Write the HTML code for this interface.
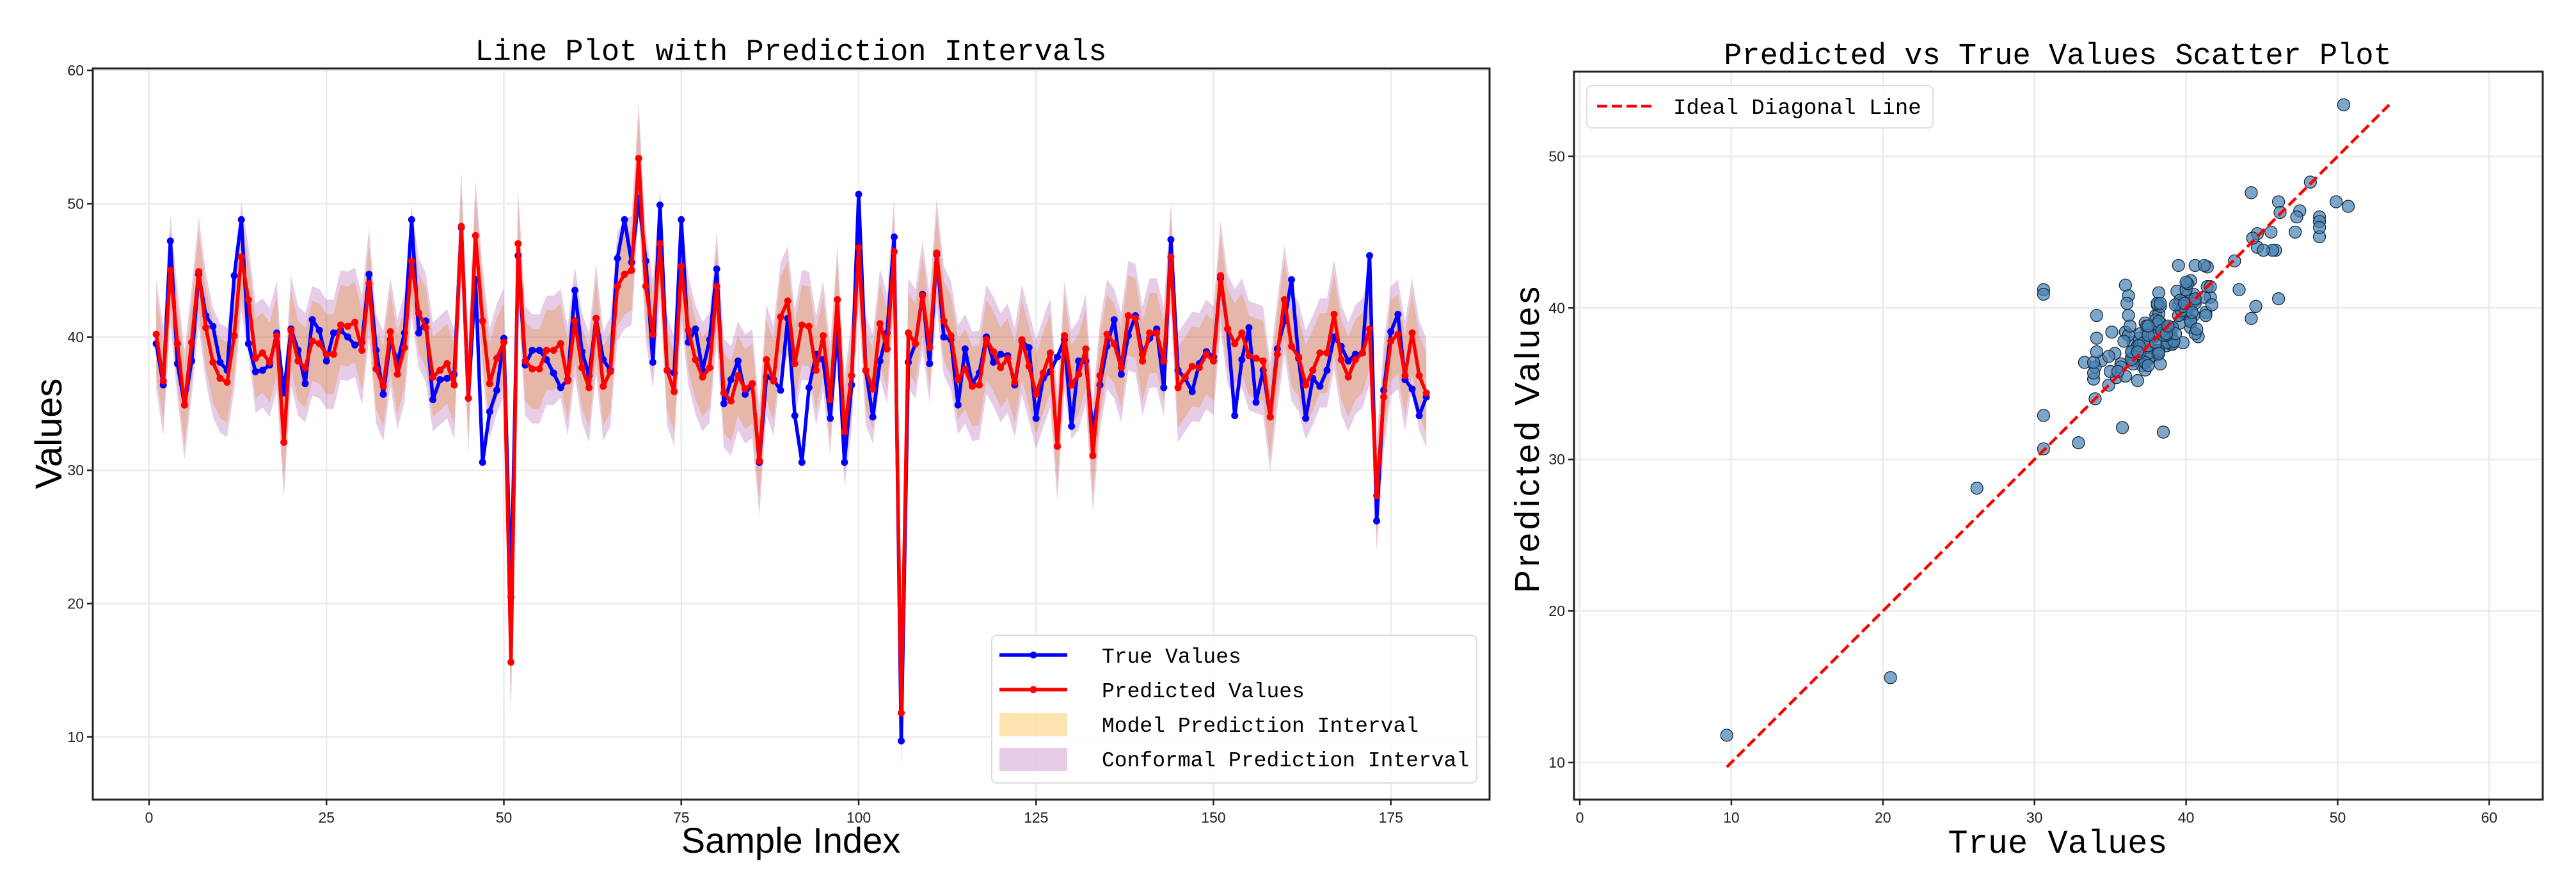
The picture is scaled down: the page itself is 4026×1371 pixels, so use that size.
<!DOCTYPE html>
<html>
<head>
<meta charset="utf-8">
<style>
html,body{margin:0;padding:0;background:#fff;}
svg{display:block;}
.tick{font-family:"Liberation Sans",sans-serif;font-size:23px;fill:#222;}
.mono{font-family:"Liberation Mono","DejaVu Sans Mono",monospace;fill:#000;}
</style>
</head>
<body>
<svg id="chart" width="4026" height="1371" viewBox="0 0 4026 1371" xmlns="http://www.w3.org/2000/svg">
  <rect x="0" y="0" width="4026" height="1371" fill="#fff"/>
  <g id="left"></g>
  <g id="right"></g>
</svg>
<script>
const trueVals = [39.5,36.4,47.2,38.0,34.9,38.2,44.7,41.6,40.8,38.1,
37.5,44.6,48.8,39.5,37.4,37.5,37.9,40.3,35.8,40.6,
39.0,36.5,41.3,40.5,38.2,40.3,40.5,40.0,39.4,39.6,
44.7,39.0,35.7,39.8,38.1,40.3,48.8,40.3,41.2,35.3,
36.8,36.9,37.2,48.2,35.4,44.3,30.6,34.4,36.0,39.9,
20.5,46.1,37.9,39.0,39.0,38.3,37.3,36.2,36.8,43.5,
38.9,37.1,41.4,38.3,37.5,45.9,48.8,45.6,50.4,45.7,
38.1,49.9,37.5,37.3,48.8,39.6,40.6,37.5,39.8,45.1,
35.0,36.8,38.2,35.7,36.5,30.6,37.0,36.8,36.0,41.4,
34.1,30.6,36.2,38.7,38.3,33.9,40.6,30.6,36.4,50.7,
37.5,34.0,38.2,40.3,47.5,9.7,38.1,39.5,43.2,38.0,
46.2,40.0,39.8,34.9,39.1,36.5,37.3,40.0,38.1,38.7,
38.6,36.4,39.7,39.2,33.9,36.9,37.4,38.5,39.8,33.3,
38.2,38.2,32.9,36.4,39.3,41.3,37.2,40.1,41.6,38.7,
39.9,40.6,36.2,47.3,37.5,36.9,35.9,38.0,38.9,38.5,
44.4,40.6,34.1,38.3,40.7,35.1,37.5,34.0,39.1,41.2,
44.3,38.4,33.9,36.9,36.3,37.5,40.0,39.3,38.2,38.7,
38.8,46.1,26.2,36.0,40.4,41.7,36.8,36.1,34.1,35.5];
const predVals = [40.2,36.7,45.0,39.5,34.9,39.6,44.9,40.7,38.1,36.9,
36.6,40.1,46.0,42.8,38.4,38.8,38.1,40.1,32.1,40.5,
38.2,37.7,39.7,39.5,38.7,38.7,40.9,40.8,41.1,39.0,
44.0,37.6,36.3,40.4,37.2,39.2,45.7,41.8,40.7,37.0,
37.5,38.0,36.4,48.3,35.4,47.6,41.2,36.5,38.4,39.6,
15.6,47.0,38.2,37.6,37.6,39.0,39.0,39.5,36.7,41.2,
37.7,36.2,41.4,36.3,37.4,43.8,44.7,45.0,53.4,43.8,
40.2,47.0,37.5,35.9,45.3,40.5,38.3,37.0,37.7,43.8,
35.8,35.2,37.1,36.1,36.5,30.7,38.3,36.7,41.5,42.7,
38.0,40.9,40.8,37.5,40.1,35.3,42.8,32.9,37.1,46.7,
37.5,36.1,41.0,39.1,46.4,11.8,40.3,39.5,43.1,39.2,
46.3,41.2,40.1,36.8,37.6,36.3,36.4,39.8,38.9,37.7,
38.4,36.6,39.8,37.8,35.7,37.3,38.8,31.8,40.1,36.4,
37.2,39.1,31.1,37.1,40.2,39.5,37.7,41.6,41.4,38.2,
40.3,40.3,38.2,46.0,36.2,37.0,37.8,37.7,38.7,38.2,
44.6,40.6,39.5,40.3,38.6,38.4,38.2,34.0,38.7,42.8,
39.3,38.5,36.4,37.5,38.8,38.8,41.7,38.3,37.0,38.3,
38.8,40.6,28.1,35.5,39.7,40.2,37.1,40.3,37.1,35.8];
const modelHalf = 3.0;
const confHalf = 4.1;
const leftXTicks = [0,25,50,75,100,125,150,175];
const leftYTicks = [10,20,30,40,50,60];
const rightXTicks = [0,10,20,30,40,50,60];
const rightYTicks = [10,20,30,40,50];
const diagRange = [9.7, 53.4];

const NS = "http://www.w3.org/2000/svg";
function mk(parent, tag, attrs, text){
  const e = document.createElementNS(NS, tag);
  for (const k in attrs) e.setAttribute(k, attrs[k]);
  if (text !== undefined) e.textContent = text;
  parent.appendChild(e);
  return e;
}
// ---------- LEFT PANEL ----------
const L = document.getElementById('left');
const LX0 = 145, LX1 = 2328, LY0 = 107, LY1 = 1250;
const lx = i => 233 + i * 11.09;
const ly = v => 1152 - (v - 10) * 20.84;

// grid
leftYTicks.forEach(t => {
  const g = mk(L, 'line', {x1: LX0, x2: LX1, y1: ly(t), y2: ly(t), stroke: '#ebebeb', 'stroke-width': 2.5});
  
  
});
leftXTicks.forEach(t => {
  const g = mk(L, 'line', {x1: lx(t), x2: lx(t), y1: LY0, y2: LY1, stroke: '#ebebeb', 'stroke-width': 2.5});
  
  
});
// bands
function bandPath(half){
  let up = [], dn = [];
  predVals.forEach((p, k) => {
    up.push(lx(k + 1).toFixed(1) + ',' + ly(p + half).toFixed(1));
    dn.unshift(lx(k + 1).toFixed(1) + ',' + ly(p - half).toFixed(1));
  });
  return 'M' + up.join(' L') + ' L' + dn.join(' L') + ' Z';
}
const mb = mk(L, 'path', {d: bandPath(modelHalf), fill: 'rgb(255,165,0)', 'fill-opacity': 0.3});


const cb = mk(L, 'path', {d: bandPath(confHalf), fill: 'rgb(128,0,128)', 'fill-opacity': 0.2});


// lines
function series(vals, color, name){
  const pts = vals.map((v, k) => lx(k + 1).toFixed(1) + ',' + ly(v).toFixed(1)).join(' ');
  const pl = mk(L, 'polyline', {points: pts, fill: 'none', stroke: color, 'stroke-width': 5.5, 'stroke-linejoin': 'round'});
  
  
  vals.forEach((v, k) => {
    const c = mk(L, 'circle', {cx: lx(k + 1), cy: ly(v), r: 5.5, fill: color});
    
    
  });
}
series(trueVals, '#0000ff', 'true-values');
series(predVals, '#ff0000', 'predicted-values');
// frame
const lf = mk(L, 'rect', {x: LX0, y: LY0, width: LX1 - LX0, height: LY1 - LY0, fill: 'none', stroke: '#222', 'stroke-width': 3});


// ticks
leftYTicks.forEach(t => {
  mk(L, 'line', {x1: LX0 - 9, x2: LX0, y1: ly(t), y2: ly(t), stroke: '#222', 'stroke-width': 2.5});
  const tx = mk(L, 'text', {x: LX0 - 14, y: ly(t) + 8, 'text-anchor': 'end', class: 'tick'}, t);
  
  
});
leftXTicks.forEach(t => {
  mk(L, 'line', {x1: lx(t), x2: lx(t), y1: LY1, y2: LY1 + 9, stroke: '#222', 'stroke-width': 2.5});
  const tx = mk(L, 'text', {x: lx(t), y: LY1 + 36, 'text-anchor': 'middle', class: 'tick'}, t);
  
  
});
const lt = mk(L, 'text', {x: 1236, y: 94, 'text-anchor': 'middle', class: 'mono', 'font-size': 47}, 'Line Plot with Prediction Intervals');


const lxl = mk(L, 'text', {x: 1236, y: 1333, 'text-anchor': 'middle', 'font-family': '"Liberation Sans",sans-serif', 'font-size': 56, fill: '#000'}, 'Sample Index');


const lyl = mk(L, 'text', {x: 0, y: 0, 'text-anchor': 'middle', 'font-family': '"Liberation Sans",sans-serif', 'font-size': 58, fill: '#000', transform: 'translate(96,678) rotate(-90)'}, 'Values');


// legend
const lg = mk(L, 'g', {});


mk(lg, 'rect', {x: 1550, y: 993, width: 758, height: 231, rx: 8, fill: '#fff', 'fill-opacity': 0.85, stroke: '#ddd', 'stroke-width': 2});
const legY = [1024, 1078, 1132, 1186];
const legLabels = ['True Values', 'Predicted Values', 'Model Prediction Interval', 'Conformal Prediction Interval'];
mk(lg, 'line', {x1: 1562, x2: 1668, y1: legY[0], y2: legY[0], stroke: '#0000ff', 'stroke-width': 5.5});
mk(lg, 'circle', {cx: 1615, cy: legY[0], r: 5.5, fill: '#0000ff'});
mk(lg, 'line', {x1: 1562, x2: 1668, y1: legY[1], y2: legY[1], stroke: '#ff0000', 'stroke-width': 5.5});
mk(lg, 'circle', {cx: 1615, cy: legY[1], r: 5.5, fill: '#ff0000'});
mk(lg, 'rect', {x: 1562, y: legY[2] - 17, width: 106, height: 36, fill: 'rgb(255,165,0)', 'fill-opacity': 0.3});
mk(lg, 'rect', {x: 1562, y: legY[3] - 17, width: 106, height: 36, fill: 'rgb(128,0,128)', 'fill-opacity': 0.2});
legLabels.forEach((s, k) => {
  const t = mk(lg, 'text', {x: 1722, y: legY[k] + 12, class: 'mono', 'font-size': 33}, s);
  
  
});

// ---------- RIGHT PANEL ----------
const R = document.getElementById('right');
const RX0 = 2460, RX1 = 3974, RY0 = 112, RY1 = 1250;
const sx = v => 2469 + v * 23.69;
const sy = v => 1192 - (v - 10) * 23.69;
rightYTicks.forEach(t => {
  const g = mk(R, 'line', {x1: RX0, x2: RX1, y1: sy(t), y2: sy(t), stroke: '#ebebeb', 'stroke-width': 2.5});
  
  
});
rightXTicks.forEach(t => {
  const g = mk(R, 'line', {x1: sx(t), x2: sx(t), y1: RY0, y2: RY1, stroke: '#ebebeb', 'stroke-width': 2.5});
  
  
});
trueVals.forEach((t, k) => {
  const c = mk(R, 'circle', {cx: sx(t), cy: sy(predVals[k]), r: 9.5, fill: 'rgb(70,130,180)', 'fill-opacity': 0.7, stroke: '#1a2a3a', 'stroke-width': 1.3});
  
  
});
const dl = mk(R, 'line', {x1: sx(diagRange[0]), y1: sy(diagRange[0]), x2: sx(diagRange[1]), y2: sy(diagRange[1]), stroke: '#ff0000', 'stroke-width': 4.5, 'stroke-dasharray': '16,7'});


const rf = mk(R, 'rect', {x: RX0, y: RY0, width: RX1 - RX0, height: RY1 - RY0, fill: 'none', stroke: '#222', 'stroke-width': 3});


rightYTicks.forEach(t => {
  mk(R, 'line', {x1: RX0 - 9, x2: RX0, y1: sy(t), y2: sy(t), stroke: '#222', 'stroke-width': 2.5});
  const tx = mk(R, 'text', {x: RX0 - 14, y: sy(t) + 8, 'text-anchor': 'end', class: 'tick'}, t);
  
  
});
rightXTicks.forEach(t => {
  mk(R, 'line', {x1: sx(t), x2: sx(t), y1: RY1, y2: RY1 + 9, stroke: '#222', 'stroke-width': 2.5});
  const tx = mk(R, 'text', {x: sx(t), y: RY1 + 36, 'text-anchor': 'middle', class: 'tick'}, t);
  
  
});
const rt = mk(R, 'text', {x: 3216, y: 100, 'text-anchor': 'middle', class: 'mono', 'font-size': 47}, 'Predicted vs True Values Scatter Plot');


const rxl = mk(R, 'text', {x: 3216, y: 1333, 'text-anchor': 'middle', class: 'mono', 'font-size': 52}, 'True Values');


const ryl = mk(R, 'text', {x: 0, y: 0, 'text-anchor': 'middle', 'font-family': '"Liberation Sans",sans-serif', 'font-size': 54, 'letter-spacing': 5, fill: '#000', transform: 'translate(2405,685) rotate(-90)'}, 'Predicted Values');


const rg = mk(R, 'g', {});


mk(rg, 'rect', {x: 2480, y: 134, width: 541, height: 66, rx: 8, fill: '#fff', 'fill-opacity': 0.85, stroke: '#ddd', 'stroke-width': 2});
mk(rg, 'line', {x1: 2496, x2: 2582, y1: 166, y2: 166, stroke: '#ff0000', 'stroke-width': 4.5, 'stroke-dasharray': '16,7'});
const rgt = mk(rg, 'text', {x: 2615, y: 178, class: 'mono', 'font-size': 34}, 'Ideal Diagonal Line');


</script>
</body>
</html>
